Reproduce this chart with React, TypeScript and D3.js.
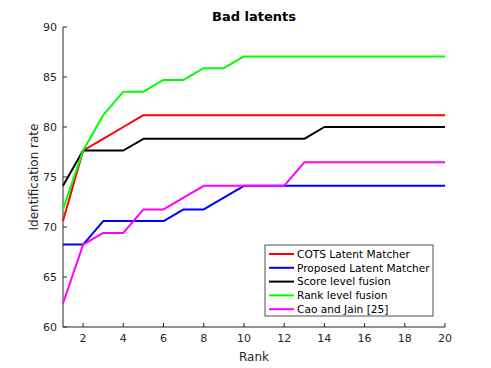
import * as d3 from "d3";
import { useEffect, useRef } from "react";

// rank 1..20, identification rate (%)
const ranks = d3.range(1, 21);
const cots = [70.59, 77.65, 78.82, 80.0, 81.18, 81.18, 81.18, 81.18, 81.18, 81.18, 81.18, 81.18, 81.18, 81.18, 81.18, 81.18, 81.18, 81.18, 81.18, 81.18];
const proposed = [68.24, 68.24, 70.59, 70.59, 70.59, 70.59, 71.76, 71.76, 72.94, 74.12, 74.12, 74.12, 74.12, 74.12, 74.12, 74.12, 74.12, 74.12, 74.12, 74.12];
const scoreFusion = [74.12, 77.65, 77.65, 77.65, 78.82, 78.82, 78.82, 78.82, 78.82, 78.82, 78.82, 78.82, 78.82, 80.0, 80.0, 80.0, 80.0, 80.0, 80.0, 80.0];
const rankFusion = [71.76, 77.65, 81.18, 83.53, 83.53, 84.71, 84.71, 85.88, 85.88, 87.06, 87.06, 87.06, 87.06, 87.06, 87.06, 87.06, 87.06, 87.06, 87.06, 87.06];
const caoJain = [62.35, 68.24, 69.41, 69.41, 71.76, 71.76, 72.94, 74.12, 74.12, 74.12, 74.12, 74.12, 76.47, 76.47, 76.47, 76.47, 76.47, 76.47, 76.47, 76.47];

const seriesNames = ["COTS Latent Matcher", "Proposed Latent Matcher", "Score level fusion", "Rank level fusion", "Cao and Jain [25]"];
const seriesColors = ["#ff0000", "#0000ff", "#000000", "#00ff00", "#ff00ff"];
const xTicks = [2, 4, 6, 8, 10, 12, 14, 16, 18, 20];
const yTicks = [60, 65, 70, 75, 80, 85, 90];

const App = () => {
  const svgRef = useRef(null);

  useEffect(() => {
    const svg = d3.select(svgRef.current);
    svg.selectAll("*").remove();
    const font = "DejaVu Sans, sans-serif";
    const axisColor = "#262626";

    const x = d3.scaleLinear().domain([1, 20]).range([63, 445]);
    const y = d3.scaleLinear().domain([60, 90]).range([327, 27]);

    const g = svg.append("g");

    // axes
    const xAxis = g.append("g").attr("transform", "translate(0,327)");
    xAxis.append("line").attr("x1", 63).attr("x2", 445).attr("stroke", axisColor);
    xTicks.forEach((t) => {
      xAxis.append("line").attr("x1", x(t)).attr("x2", x(t)).attr("y1", 0).attr("y2", -4).attr("stroke", axisColor);
      xAxis.append("text").attr("x", x(t)).attr("y", 15).attr("text-anchor", "middle")
        .attr("font-family", font).attr("font-size", 11).attr("fill", axisColor).text(t);
    });

    const yAxis = g.append("g").attr("transform", "translate(63,0)");
    yAxis.append("line").attr("y1", 27).attr("y2", 327).attr("stroke", axisColor);
    yTicks.forEach((t) => {
      yAxis.append("line").attr("y1", y(t)).attr("y2", y(t)).attr("x1", 0).attr("x2", 4).attr("stroke", axisColor);
      yAxis.append("text").attr("x", -6).attr("y", y(t)).attr("dy", "0.35em").attr("text-anchor", "end")
        .attr("font-family", font).attr("font-size", 11).attr("fill", axisColor).text(t);
    });

    // labels
    svg.append("text").attr("x", 254).attr("y", 21).attr("text-anchor", "middle")
      .attr("font-family", font).attr("font-size", 13).attr("font-weight", "bold").attr("fill", "#000").text("Bad latents");
    svg.append("text").attr("x", 254).attr("y", 361).attr("text-anchor", "middle")
      .attr("font-family", font).attr("font-size", 12).attr("fill", axisColor).text("Rank");
    svg.append("text").attr("transform", "translate(38,177) rotate(-90)").attr("text-anchor", "middle")
      .attr("font-family", font).attr("font-size", 12).attr("fill", axisColor).text("Identification rate");

    // lines
    const allSeries = [cots, proposed, scoreFusion, rankFusion, caoJain];
    const line = d3.line<number>().x((_, i) => x(ranks[i])).y((d) => y(d));
    allSeries.forEach((s, i) => {
      g.append("path").datum(s).attr("d", line).attr("fill", "none")
        .attr("stroke", seriesColors[i]).attr("stroke-width", 2).attr("stroke-linejoin", "round");
    });

    // legend
    const lg = svg.append("g").attr("transform", "translate(265,245)");
    lg.append("rect").attr("width", 168).attr("height", 71).attr("fill", "#fff").attr("stroke", axisColor).attr("stroke-width", 0.8);
    seriesNames.forEach((name, i) => {
      const yy = 9 + i * 13.8;
      lg.append("line").attr("x1", 4).attr("x2", 29).attr("y1", yy).attr("y2", yy)
        .attr("stroke", seriesColors[i]).attr("stroke-width", 2);
      lg.append("text").attr("x", 32).attr("y", yy).attr("dy", "0.35em")
        .attr("font-family", font).attr("font-size", 10.6).attr("fill", "#000").text(name);
    });
  }, []);

  return (
    <div>
      <svg ref={svgRef} width={491} height={368} style={{ position: "absolute", left: 0, top: 0, background: "#fff" }}></svg>
    </div>
  );
};

export default App;
